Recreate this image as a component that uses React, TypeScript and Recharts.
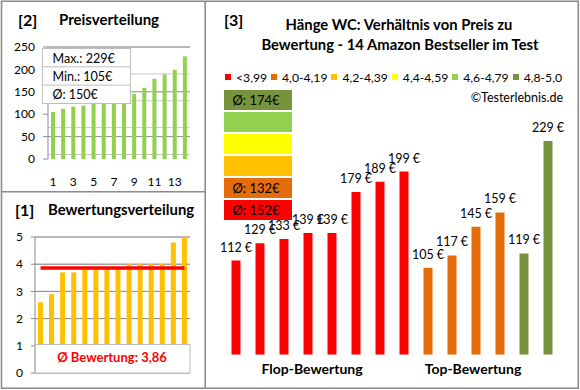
import React from 'react';
import { BarChart, Bar, XAxis, YAxis, CartesianGrid, Cell, LabelList, ComposedChart, Line } from 'recharts';

const FONT = 'Lato, "Open Sans", sans-serif';

// Panel [2] – price distribution (sorted)
const priceRanks = [1, 2, 3, 4, 5, 6, 7, 8, 9, 10, 11, 12, 13, 14];
const sortedPrices = [105, 112, 117, 119, 129, 133, 139, 139, 145, 159, 179, 189, 199, 229];
const priceTicks = [0, 50, 100, 150, 200, 250];

// Panel [1] – rating distribution (sorted)
const sortedRatings = [2.6, 2.9, 3.7, 3.7, 3.8, 3.8, 3.9, 3.9, 4.0, 4.0, 4.0, 4.0, 4.8, 5.0];
const ratingTicks = [0, 1, 2, 3, 4, 5];

// Panel [3] – price vs rating
const legendLabels = ['<3,99', '4,0-4,19', '4,2-4,39', '4,4-4,59', '4,6-4,79', '4,8-5,0'];
const legendColors = ['#FF0000', '#E46C0A', '#FFC000', '#FFFF00', '#92D050', '#77933C'];
const comparePrices = [112, 129, 133, 139, 139, 179, 189, 199, 105, 117, 145, 159, 119, 229];
const compareGroups = [0, 0, 0, 0, 0, 0, 0, 0, 1, 1, 1, 1, 5, 5];
const sectionNames = ['Flop-Bewertung', 'Top-Bewertung'];

const avg = (a: number[]) => a.reduce((s, v) => s + v, 0) / a.length;

const priceData = priceRanks.map((r, i) => ({ rank: r, price: sortedPrices[i] }));
const ratingAvg = avg(sortedRatings);
const ratingData = priceRanks.map((r, i) => ({ rank: r, rating: sortedRatings[i], avg: ratingAvg }));
const compareData = comparePrices.map((p, i) => ({ idx: i + 1, price: p, group: compareGroups[i] }));

const groupAvgs = legendLabels.map((_, g) => {
  const ps = comparePrices.filter((_, i) => compareGroups[i] === g);
  return ps.length ? Math.round(avg(ps)) : null;
});

const range = (a: number, b: number, s: number) => {
  const out: number[] = [];
  for (let v = a; v <= b + 1e-9; v += s) out.push(Math.round(v * 100) / 100);
  return out;
};

const GRID_MINOR = '#C8C8C8';
const GRID_MAJOR = '#8C8C8C';
const BORDER = '#8C8C8C';

const PriceLabel = (props: any) => {
  const { x, y, width, value } = props;
  return (
    <text x={x + width / 2} y={y - 9} textAnchor="middle" fontFamily={FONT} fontSize={12.5} fill="#000">
      {value} €
    </text>
  );
};

export default function App() {
  const avgBoxOrder = [5, 4, 3, 2, 1, 0];
  return (
    <div style={{ position: 'absolute', left: 0, top: 0, width: 580, height: 390, background: '#fff', fontFamily: FONT }}>
      {/* Panel 2 */}
      <div style={{ position: 'absolute', left: 0, top: 0 }}>
        <BarChart width={205} height={191} data={priceData} margin={{ top: 47, right: 15, bottom: 10, left: 0 }} barCategoryGap={0}>
          <CartesianGrid vertical={false} horizontalValues={range(0, 250, 10)} stroke={GRID_MINOR} />
          <CartesianGrid vertical={false} horizontalValues={priceTicks} stroke={GRID_MAJOR} />
          <XAxis dataKey="rank" interval={1} tickLine={false} tickSize={0} tickMargin={18} height={22}
            axisLine={false} tick={{ fontFamily: FONT, fontSize: 12, fill: '#000' }} />
          <YAxis domain={[0, 250]} ticks={priceTicks} allowDataOverflow width={48} tickSize={5} tickMargin={8}
            stroke={GRID_MAJOR} tick={{ fontFamily: FONT, fontSize: 12, fill: '#000' }} />
          <Bar dataKey="price" fill="#92D050" barSize={4} isAnimationActive={false} />
        </BarChart>
      </div>

      {/* Panel 1 */}
      <div style={{ position: 'absolute', left: 0, top: 191 }}>
        <ComposedChart width={205} height={197} data={ratingData} margin={{ top: 46, right: 15, bottom: 15, left: 0 }}>
          <CartesianGrid vertical={false} horizontalValues={range(0, 5, 0.2)} stroke={GRID_MINOR} />
          <CartesianGrid vertical={false} horizontalValues={ratingTicks} stroke={GRID_MAJOR} />
          <XAxis dataKey="rank" hide />
          <YAxis domain={[0, 5]} ticks={ratingTicks} allowDataOverflow width={35} tickSize={4} tickMargin={8}
            stroke={GRID_MAJOR} tick={{ fontFamily: FONT, fontSize: 12, fill: '#000' }} />
          <Bar dataKey="rating" fill="#FFC000" barSize={5} isAnimationActive={false} />
          <Line dataKey="avg" stroke="#FF0000" strokeWidth={3.5} dot={false} isAnimationActive={false} />
        </ComposedChart>
      </div>

      {/* Panel 3 */}
      <div style={{ position: 'absolute', left: 205, top: 0 }}>
        <BarChart width={373} height={388} data={compareData} margin={{ top: 119.4, right: 18.5, bottom: 33.3, left: 18.5 }}>
          <XAxis dataKey="idx" hide />
          <YAxis domain={[20, 250]} allowDataOverflow hide />
          <Bar dataKey="price" barSize={9} isAnimationActive={false}>
            {compareData.map((d, i) => (
              <Cell key={i} fill={legendColors[d.group]} />
            ))}
            <LabelList dataKey="price" content={PriceLabel} />
          </Bar>
        </BarChart>
      </div>

      {/* Overlay: frames, titles, boxes */}
      <svg width={580} height={390} style={{ position: 'absolute', left: 0, top: 0, pointerEvents: 'none' }} fontFamily={FONT}>
        <rect x={1.5} y={1.25} width={576.75} height={387} fill="none" stroke={BORDER} strokeWidth={1.6} />
        <line x1={205.2} y1={1} x2={205.2} y2={388} stroke={BORDER} strokeWidth={1.6} />
        <line x1={1} y1={191.8} x2={205} y2={191.8} stroke={BORDER} strokeWidth={1.6} />

        {/* Panel 2 titles */}
        <text x={18} y={25.5} fontSize={16} fontWeight={700} fill="#000">[2]</text>
        <text x={59} y={25} fontSize={15} fontWeight={700} fill="#000">Preisverteilung</text>
        {/* stat box */}
        <rect x={42.5} y={48.5} width={88} height={55} fill="#fff" stroke="#BFBFBF" />
        <line x1={42.5} y1={66.8} x2={130.5} y2={66.8} stroke="#BFBFBF" />
        <line x1={42.5} y1={85.1} x2={130.5} y2={85.1} stroke="#BFBFBF" />
        <text x={52.5} y={62.8} fontSize={12.5} fill="#000">Max.: {Math.max(...sortedPrices)}€</text>
        <text x={52.5} y={81} fontSize={12.5} fill="#000">Min.: {Math.min(...sortedPrices)}€</text>
        <text x={52.5} y={99.3} fontSize={12.5} fill="#000">Ø: {Math.round(avg(sortedPrices))}€</text>

        {/* Panel 1 titles */}
        <text x={15} y={215.5} fontSize={16} fontWeight={700} fill="#000">[1]</text>
        <text x={48} y={215} fontSize={14.9} fontWeight={700} fill="#000">Bewertungsverteilung</text>
        <rect x={35.5} y={344.5} width={154.5} height={28.5} fill="#fff" stroke="#BFBFBF" />
        <text x={112} y={361.5} fontSize={13} fontWeight={700} fill="#FF0000" textAnchor="middle">
          Ø Bewertung: {ratingAvg.toFixed(2).replace('.', ',')}
        </text>

        {/* Panel 3 titles */}
        <text x={224} y={25.5} fontSize={16} fontWeight={700} fill="#000">[3]</text>
        <text x={399} y={30} fontSize={14.8} fontWeight={700} fill="#000" textAnchor="middle">Hänge WC: Verhältnis von Preis zu</text>
        <text x={400} y={50} fontSize={14.8} fontWeight={700} fill="#000" textAnchor="middle">Bewertung - 14 Amazon Bestseller im Test</text>
        <text x={563} y={101.5} fontSize={12.5} fill="#000" textAnchor="end">©Testerlebnis.de</text>

        {/* avg boxes */}
        {avgBoxOrder.map((g, k) => (
          <g key={g}>
            <rect x={224} y={90 + k * 22} width={68} height={20} fill={legendColors[g]} />
            {groupAvgs[g] !== null && (
              <text x={256} y={90 + k * 22 + 14.5} fontSize={13} fill="#000" textAnchor="middle">Ø: {groupAvgs[g]}€</text>
            )}
          </g>
        ))}

        <text x={312} y={374} fontSize={14} fontWeight={700} fill="#000" textAnchor="middle">{sectionNames[0]}</text>
        <text x={473} y={374} fontSize={14} fontWeight={700} fill="#000" textAnchor="middle">{sectionNames[1]}</text>
      </svg>

      {/* Legend */}
      <div style={{ position: 'absolute', left: 225, top: 69, display: 'flex', alignItems: 'center', height: 16, fontSize: 12.2, fontFamily: FONT, color: '#000', whiteSpace: 'nowrap' }}>
        {legendLabels.map((l, i) => (
          <div key={l} style={{ display: 'flex', alignItems: 'center', marginRight: 4 }}>
            <div style={{ width: 6, height: 6, background: legendColors[i], marginRight: 5 }} />
            <span>{l}</span>
          </div>
        ))}
      </div>
    </div>
  );
}
